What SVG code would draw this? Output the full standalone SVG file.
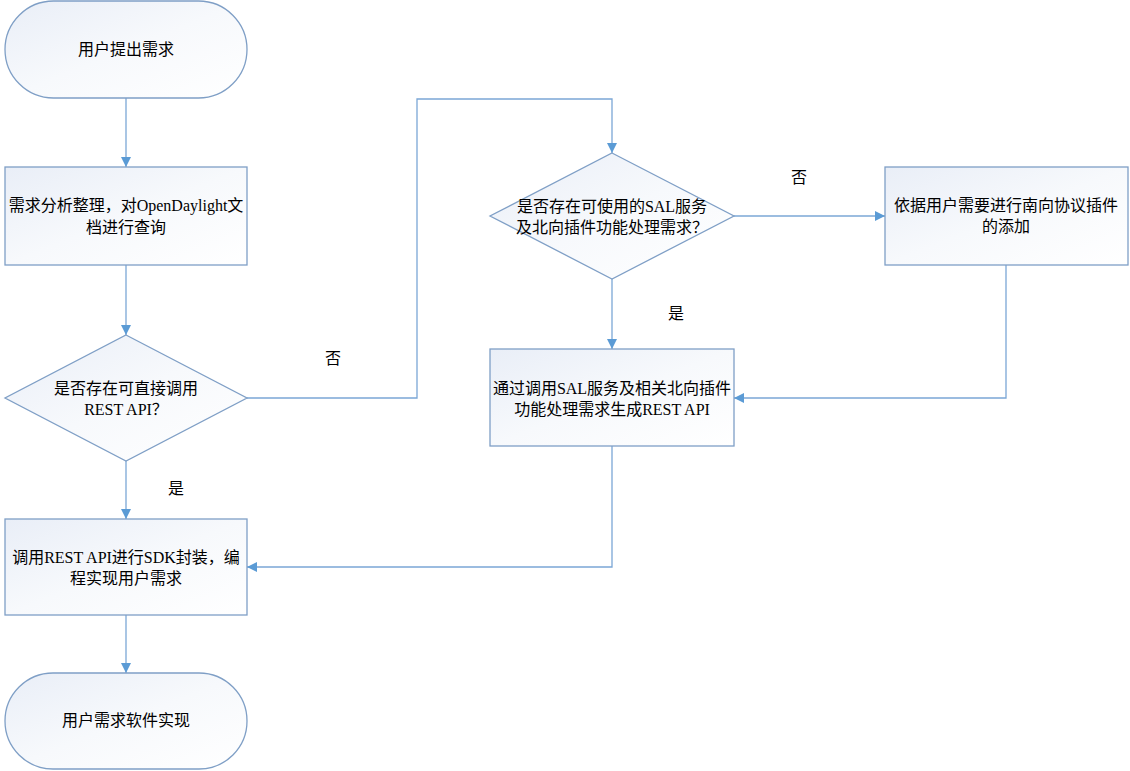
<svg xmlns="http://www.w3.org/2000/svg" width="1130" height="771" viewBox="0 0 1130 771">
<defs>
<linearGradient id="g" x1="0" y1="0" x2="1" y2="1">
<stop offset="0" stop-color="#e9eef7"/>
<stop offset="0.5" stop-color="#f7f9fc"/>
<stop offset="1" stop-color="#ffffff"/>
</linearGradient>
<marker id="a" viewBox="0 0 10 10" refX="10" refY="5" markerWidth="10" markerHeight="10" markerUnits="userSpaceOnUse" orient="auto">
<path d="M0,0 L10,5 L0,10 z" fill="#5b9bd5"/>
</marker>
<style>
.n{fill:url(#g);stroke:#7f9fc6;stroke-width:1.3}
.c{fill:none;stroke:#7ba7d6;stroke-width:1.3;marker-end:url(#a)}
text{font-family:"Liberation Serif","Noto Sans CJK SC",serif;font-size:16px;fill:#000;text-anchor:middle}
</style>
</defs>
<rect width="1130" height="771" fill="#fff"/>
<g id="connectors">
<path class="c" d="M126,98 V167"/>
<path class="c" d="M126,265 V335"/>
<path class="c" d="M126,461 V519"/>
<path class="c" d="M126,615 V673"/>
<path class="c" d="M247,398 H417 V99 H612 V153"/>
<path class="c" d="M734,216 H885"/>
<path class="c" d="M612,279 V349"/>
<path class="c" d="M1006,265 V398 H734"/>
<path class="c" d="M612,446 V567 H247"/>
<text x="333" y="364">否</text>
<text x="176" y="494">是</text>
<text x="799" y="183">否</text>
<text x="676" y="319">是</text>
</g>
<g id="start">
<rect class="n" x="5" y="1" width="242" height="97" rx="48.5"/>
<text x="126" y="55">用户提出需求</text>
</g>
<g id="analyze">
<rect class="n" x="5" y="167" width="242" height="98"/>
<text x="126" y="211">需求分析整理，对OpenDaylight文</text>
<text x="126" y="233">档进行查询</text>
</g>
<g id="decision1">
<polygon class="n" points="126,335 247,398 126,461 5,398"/>
<text x="126" y="394">是否存在可直接调用</text>
<text x="126" y="415">REST API？</text>
</g>
<g id="sdk">
<rect class="n" x="5" y="519" width="242" height="96"/>
<text x="126" y="563">调用REST API进行SDK封装，编</text>
<text x="126" y="584">程实现用户需求</text>
</g>
<g id="end">
<rect class="n" x="5" y="673" width="242" height="96" rx="48"/>
<text x="126" y="726">用户需求软件实现</text>
</g>
<g id="decision2">
<polygon class="n" points="612,153 734,216 612,279 490,216"/>
<text x="612" y="212">是否存在可使用的SAL服务</text>
<text x="612" y="233">及北向插件功能处理需求？</text>
</g>
<g id="sal">
<rect class="n" x="490" y="349" width="244" height="97"/>
<text x="612" y="394">通过调用SAL服务及相关北向插件</text>
<text x="612" y="415">功能处理需求生成REST API</text>
</g>
<g id="south">
<rect class="n" x="885" y="167" width="243" height="98"/>
<text x="1006" y="211">依据用户需要进行南向协议插件</text>
<text x="1006" y="232">的添加</text>
</g>
</svg>
